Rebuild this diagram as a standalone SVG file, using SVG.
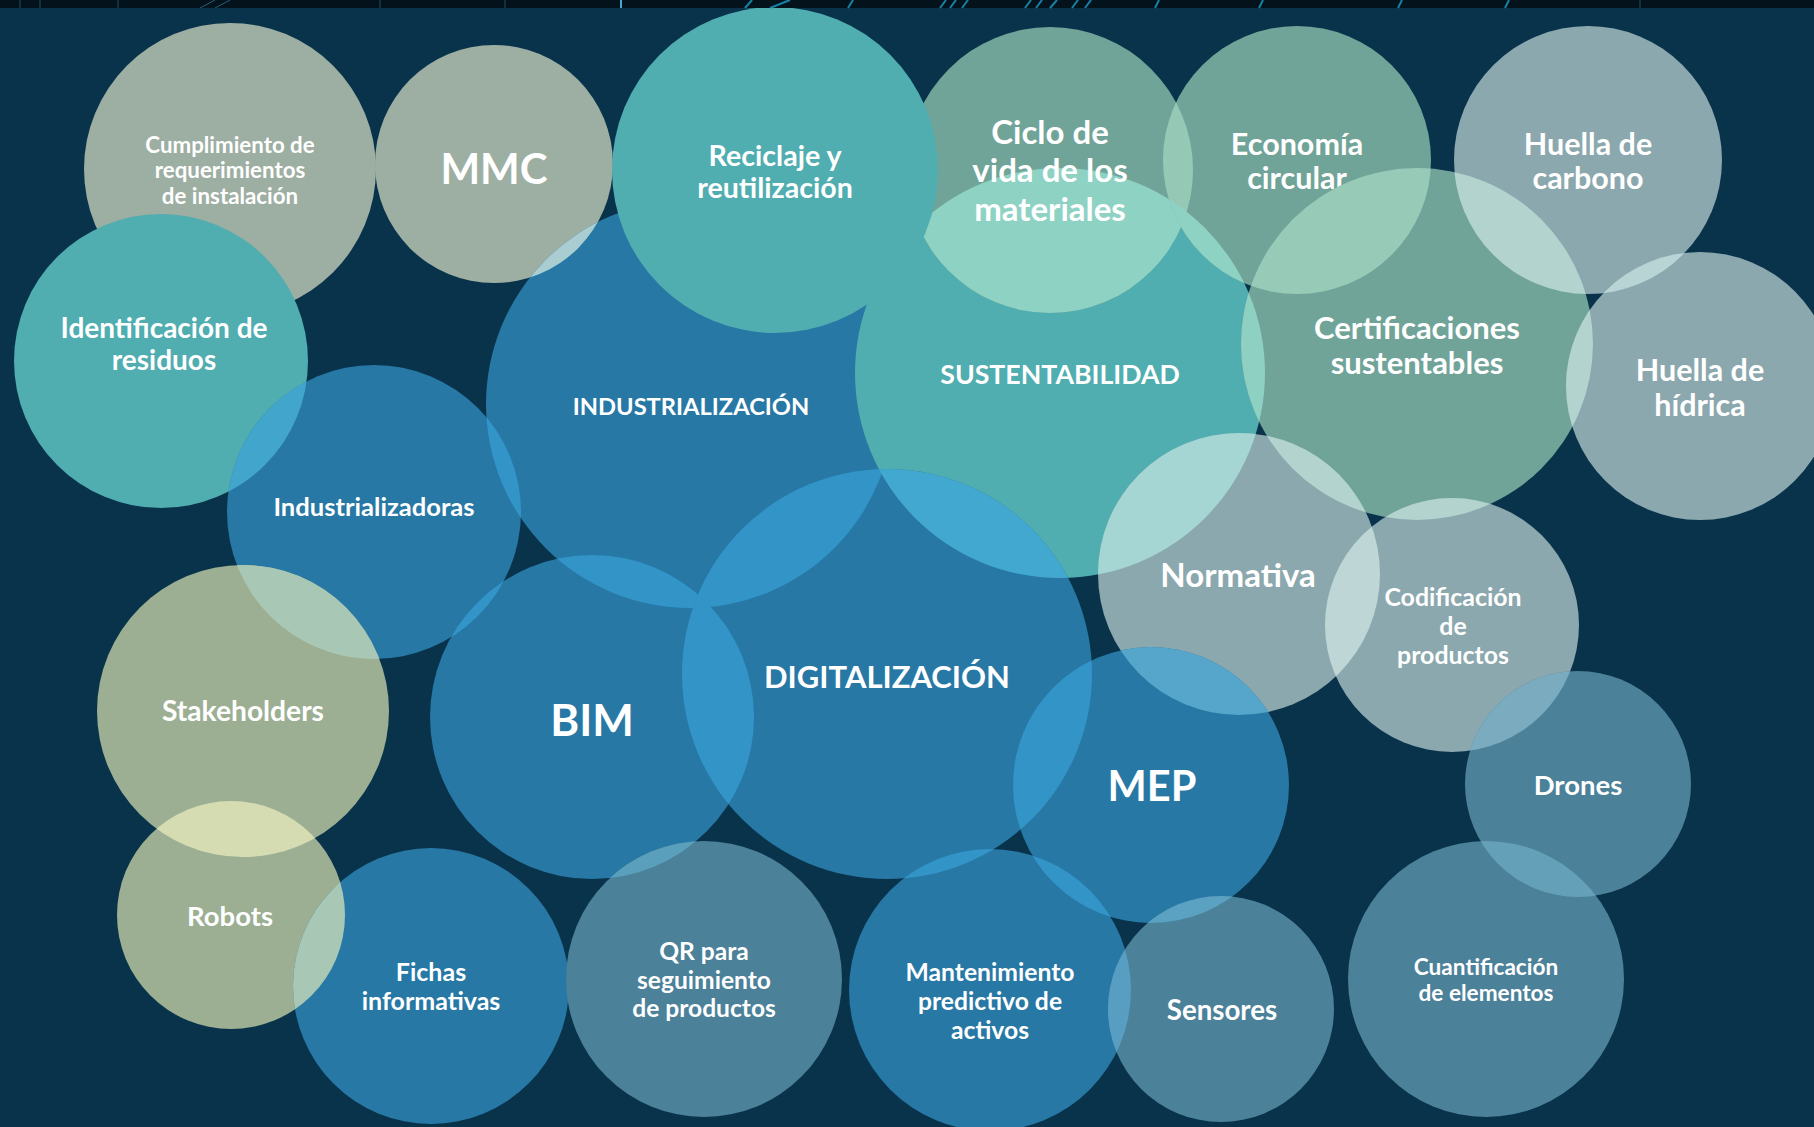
<svg xmlns="http://www.w3.org/2000/svg" width="1814" height="1127" viewBox="0 0 1814 1127">
<style>
.t{fill:#ffffff;font-family:Lato,"Open Sans","Liberation Sans",sans-serif;font-weight:700;text-anchor:middle}
.gray{fill:#9daea2}.teal{fill:#50adb0}.blue{fill:#2778a5}.gg{fill:#71a499}.gb{fill:#8ba8ae}.steel{fill:#4b8199}.olive{fill:#9caf93}
.bb{fill:#3394c8}
.streak{stroke:#1b9fc8;stroke-width:2;opacity:0.8}
.vline{stroke:#2a4a5c;stroke-width:1}
</style>
<defs>
<clipPath id="c-mmc"><circle cx="494" cy="164" r="119"/></clipPath>
<clipPath id="c-indust"><circle cx="690" cy="404" r="204"/></clipPath>
<clipPath id="c-ident"><circle cx="161" cy="361" r="147"/></clipPath>
<clipPath id="c-indz"><circle cx="374" cy="512" r="147"/></clipPath>
<clipPath id="c-stake"><circle cx="243" cy="711" r="146"/></clipPath>
<clipPath id="c-robots"><circle cx="231" cy="915" r="114"/></clipPath>
<clipPath id="c-bim"><circle cx="592" cy="717" r="162"/></clipPath>
<clipPath id="c-sust"><circle cx="1060" cy="373" r="205"/></clipPath>
<clipPath id="c-ciclo"><circle cx="1050" cy="170" r="143"/></clipPath>
<clipPath id="c-digital"><circle cx="887" cy="674" r="205"/></clipPath>
<clipPath id="c-econ"><circle cx="1297" cy="160" r="134"/></clipPath>
<clipPath id="c-certif"><circle cx="1417" cy="344" r="176"/></clipPath>
<clipPath id="c-carbono"><circle cx="1588" cy="160" r="134"/></clipPath>
<clipPath id="c-norm"><circle cx="1239" cy="574" r="141"/></clipPath>
<clipPath id="c-mep"><circle cx="1151" cy="785" r="138"/></clipPath>
<clipPath id="c-mant"><circle cx="990" cy="990" r="141"/></clipPath>
<clipPath id="c-codif"><circle cx="1452" cy="625" r="127"/></clipPath>
<clipPath id="c-drones"><circle cx="1578" cy="784" r="113"/></clipPath>
</defs>
<rect x="0" y="0" width="1814" height="1127" fill="#08334b"/>

<g id="node-cumplimiento">
<circle class="gray" cx="230" cy="169" r="146"/>
<text class="t" font-size="22.3"><tspan x="230" y="152.5">Cumplimiento de</tspan><tspan x="230" y="178">requerimientos</tspan><tspan x="230" y="203.5">de instalación</tspan></text>
</g>
<g id="node-identificacion">
<circle class="teal" cx="161" cy="361" r="147"/>
<text class="t" font-size="28"><tspan x="164" y="338">Identificación de</tspan><tspan x="164" y="369.5">residuos</tspan></text>
</g>
<g id="node-mmc">
<circle class="gray" cx="494" cy="164" r="119"/>
<text class="t" x="494" y="184" font-size="42">MMC</text>
</g>
<g id="node-industrializacion">
<circle class="blue" cx="690" cy="404" r="204"/>
<circle cx="690" cy="404" r="204" fill="#a9cdd1" clip-path="url(#c-mmc)"/>
<text class="t" x="691" y="414.5" font-size="23.7">INDUSTRIALIZACIÓN</text>
</g>
<g id="node-industrializadoras">
<circle class="blue" cx="374" cy="512" r="147"/>
<circle cx="374" cy="512" r="147" fill="#42a6cc" clip-path="url(#c-ident)"/>
<circle cx="374" cy="512" r="147" class="bb" clip-path="url(#c-indust)"/>
<text class="t" x="374" y="516" font-size="25.6">Industrializadoras</text>
</g>
<g id="node-stakeholders">
<circle class="olive" cx="243" cy="711" r="146"/>
<circle cx="243" cy="711" r="146" fill="#a8c7b5" clip-path="url(#c-indz)"/>
<text class="t" x="243" y="721" font-size="28.2">Stakeholders</text>
</g>
<g id="node-robots">
<circle class="olive" cx="231" cy="915" r="114"/>
<circle cx="231" cy="915" r="114" fill="#d6dcb1" clip-path="url(#c-stake)"/>
<text class="t" x="230" y="925.5" font-size="27.5">Robots</text>
</g>
<g id="node-fichas">
<circle class="blue" cx="431" cy="986" r="138"/>
<circle cx="431" cy="986" r="138" fill="#a8c7b5" clip-path="url(#c-robots)"/>
<text class="t" font-size="25"><tspan x="431" y="981">Fichas</tspan><tspan x="431" y="1009.5">informativas</tspan></text>
</g>
<g id="node-bim">
<circle class="blue" cx="592" cy="717" r="162"/>
<circle cx="592" cy="717" r="162" class="bb" clip-path="url(#c-indz)"/>
<circle cx="592" cy="717" r="162" class="bb" clip-path="url(#c-indust)"/>
<text class="t" x="592" y="735.5" font-size="44">BIM</text>
</g>
<g id="node-qr">
<circle class="steel" cx="704" cy="979" r="138"/>
<circle cx="704" cy="979" r="138" fill="#5aa0bd" clip-path="url(#c-bim)"/>
<text class="t" font-size="24.6"><tspan x="704" y="960">QR para</tspan><tspan x="704" y="989">seguimiento</tspan><tspan x="704" y="1017">de productos</tspan></text>
</g>
<g id="node-sustentabilidad">
<circle class="teal" cx="1060" cy="373" r="205"/>
<text class="t" x="1060" y="384" font-size="26.7">SUSTENTABILIDAD</text>
</g>
<g id="node-ciclo">
<circle class="gg" cx="1050" cy="170" r="143"/>
<circle cx="1050" cy="170" r="143" fill="#8ed2c4" clip-path="url(#c-sust)"/>
<text class="t" font-size="33"><tspan x="1050" y="144">Ciclo de</tspan><tspan x="1050" y="182">vida de los</tspan><tspan x="1050" y="220.5">materiales</tspan></text>
</g>
<g id="node-reciclaje">
<circle class="teal" cx="775" cy="170" r="163"/>
<text class="t" font-size="28.6"><tspan x="775" y="166">Reciclaje y</tspan><tspan x="775" y="198">reutilización</tspan></text>
</g>
<g id="node-digitalizacion">
<circle class="blue" cx="887" cy="674" r="205"/>
<circle cx="887" cy="674" r="205" class="bb" clip-path="url(#c-indust)"/>
<circle cx="887" cy="674" r="205" class="bb" clip-path="url(#c-bim)"/>
<circle cx="887" cy="674" r="205" fill="#43a8cf" clip-path="url(#c-sust)"/>
<text class="t" x="887" y="687.5" font-size="31">DIGITALIZACIÓN</text>
</g>
<g id="node-economia">
<circle class="gg" cx="1297" cy="160" r="134"/>
<circle cx="1297" cy="160" r="134" fill="#95c9b6" clip-path="url(#c-ciclo)"/>
<circle cx="1297" cy="160" r="134" fill="#8ed2c4" clip-path="url(#c-sust)"/>
<text class="t" font-size="30.5"><tspan x="1297" y="155">Economía</tspan><tspan x="1297" y="188.5">circular</tspan></text>
</g>
<g id="node-certificaciones">
<circle class="gg" cx="1417" cy="344" r="176"/>
<circle cx="1417" cy="344" r="176" fill="#8ed0c2" clip-path="url(#c-sust)"/>
<circle cx="1417" cy="344" r="176" fill="#97cbb8" clip-path="url(#c-econ)"/>
<text class="t" font-size="31"><tspan x="1417" y="338.5">Certificaciones</tspan><tspan x="1417" y="373.5">sustentables</tspan></text>
</g>
<g id="node-huella-carbono">
<circle class="gb" cx="1588" cy="160" r="134"/>
<circle cx="1588" cy="160" r="134" fill="#b2d3ce" clip-path="url(#c-certif)"/>
<text class="t" font-size="30.5"><tspan x="1588" y="155">Huella de</tspan><tspan x="1588" y="188.5">carbono</tspan></text>
</g>
<g id="node-huella-hidrica">
<circle class="gb" cx="1700" cy="386" r="134"/>
<circle cx="1700" cy="386" r="134" fill="#b2d3ce" clip-path="url(#c-certif)"/>
<circle cx="1700" cy="386" r="134" fill="#b9d4d5" clip-path="url(#c-carbono)"/>
<text class="t" font-size="30.5"><tspan x="1700" y="381">Huella de</tspan><tspan x="1700" y="416">hídrica</tspan></text>
</g>
<g id="node-normativa">
<circle class="gb" cx="1239" cy="574" r="141"/>
<circle cx="1239" cy="574" r="141" fill="#a6d6d4" clip-path="url(#c-sust)"/>
<circle cx="1239" cy="574" r="141" fill="#b2d3ce" clip-path="url(#c-certif)"/>
<text class="t" x="1238" y="587" font-size="33">Normativa</text>
</g>
<g id="node-mep">
<circle class="blue" cx="1151" cy="785" r="138"/>
<circle cx="1151" cy="785" r="138" class="bb" clip-path="url(#c-digital)"/>
<circle cx="1151" cy="785" r="138" fill="#56a6cb" clip-path="url(#c-norm)"/>
<text class="t" x="1152" y="800.5" font-size="41.5">MEP</text>
</g>
<g id="node-mantenimiento">
<circle class="blue" cx="990" cy="990" r="141"/>
<circle cx="990" cy="990" r="141" class="bb" clip-path="url(#c-digital)"/>
<circle cx="990" cy="990" r="141" class="bb" clip-path="url(#c-mep)"/>
<text class="t" font-size="24.7"><tspan x="990" y="980.5">Mantenimiento</tspan><tspan x="990" y="1009.5">predictivo de</tspan><tspan x="990" y="1038.5">activos</tspan></text>
</g>
<g id="node-sensores">
<circle class="steel" cx="1221" cy="1009" r="113"/>
<circle cx="1221" cy="1009" r="113" fill="#5aa1c2" clip-path="url(#c-mep)"/>
<circle cx="1221" cy="1009" r="113" fill="#579ec2" clip-path="url(#c-mant)"/>
<text class="t" x="1222" y="1019.5" font-size="27.7">Sensores</text>
</g>
<g id="node-codificacion">
<circle class="gb" cx="1452" cy="625" r="127"/>
<circle cx="1452" cy="625" r="127" fill="#bed6d5" clip-path="url(#c-norm)"/>
<circle cx="1452" cy="625" r="127" fill="#b2d3ce" clip-path="url(#c-certif)"/>
<text class="t" font-size="24.9"><tspan x="1453" y="605.5">Codificación</tspan><tspan x="1453" y="635">de</tspan><tspan x="1453" y="664">productos</tspan></text>
</g>
<g id="node-drones">
<circle class="steel" cx="1578" cy="784" r="113"/>
<circle cx="1578" cy="784" r="113" fill="#7aabbf" clip-path="url(#c-codif)"/>
<text class="t" x="1578" y="794.5" font-size="27.5">Drones</text>
</g>
<g id="node-cuantificacion">
<circle class="steel" cx="1486" cy="979" r="138"/>
<circle cx="1486" cy="979" r="138" fill="#65a0b9" clip-path="url(#c-drones)"/>
<text class="t" font-size="22.6"><tspan x="1486" y="974.5">Cuantificación</tspan><tspan x="1486" y="1000.5">de elementos</tspan></text>
</g>

<g id="connectors"></g>

<g id="top-strip">
<rect x="0" y="0" width="1814" height="8" fill="#04121c"/>
<line class="vline" x1="20" y1="0" x2="20" y2="8"/>
<line class="vline" x1="40" y1="0" x2="40" y2="8"/>
<line class="vline" x1="118" y1="0" x2="118" y2="8"/>
<line class="vline" x1="380" y1="0" x2="380" y2="8"/>
<line class="vline" x1="505" y1="0" x2="505" y2="8"/>
<line class="vline" x1="1640" y1="0" x2="1640" y2="8"/>
<line x1="621" y1="0" x2="621" y2="8" stroke="#3fa9cf" stroke-width="2"/>
<line class="streak" x1="745" y1="8" x2="752" y2="0"/>
<line class="streak" x1="770" y1="8" x2="790" y2="0" opacity="0.4"/>
<line class="streak" x1="848" y1="8" x2="853" y2="0"/>
<line class="streak" x1="940" y1="8" x2="946" y2="0"/>
<line class="streak" x1="950" y1="8" x2="956" y2="0"/>
<line class="streak" x1="962" y1="8" x2="968" y2="0"/>
<line class="streak" x1="1025" y1="8" x2="1031" y2="0"/>
<line class="streak" x1="1036" y1="8" x2="1042" y2="0"/>
<line class="streak" x1="1050" y1="8" x2="1057" y2="0"/>
<line class="streak" x1="1072" y1="8" x2="1078" y2="0"/>
<line class="streak" x1="1085" y1="8" x2="1091" y2="0"/>
<line class="streak" x1="1155" y1="8" x2="1159" y2="0"/>
<line class="streak" x1="1259" y1="8" x2="1263" y2="0"/>
<line class="streak" x1="1398" y1="8" x2="1402" y2="0"/>
<line class="streak" x1="1505" y1="8" x2="1509" y2="0"/>
<line x1="200" y1="8" x2="215" y2="0" stroke="#2a5f78" stroke-width="1"/>
<line x1="230" y1="0" x2="215" y2="8" stroke="#2a5f78" stroke-width="1"/>
</g>
</svg>
